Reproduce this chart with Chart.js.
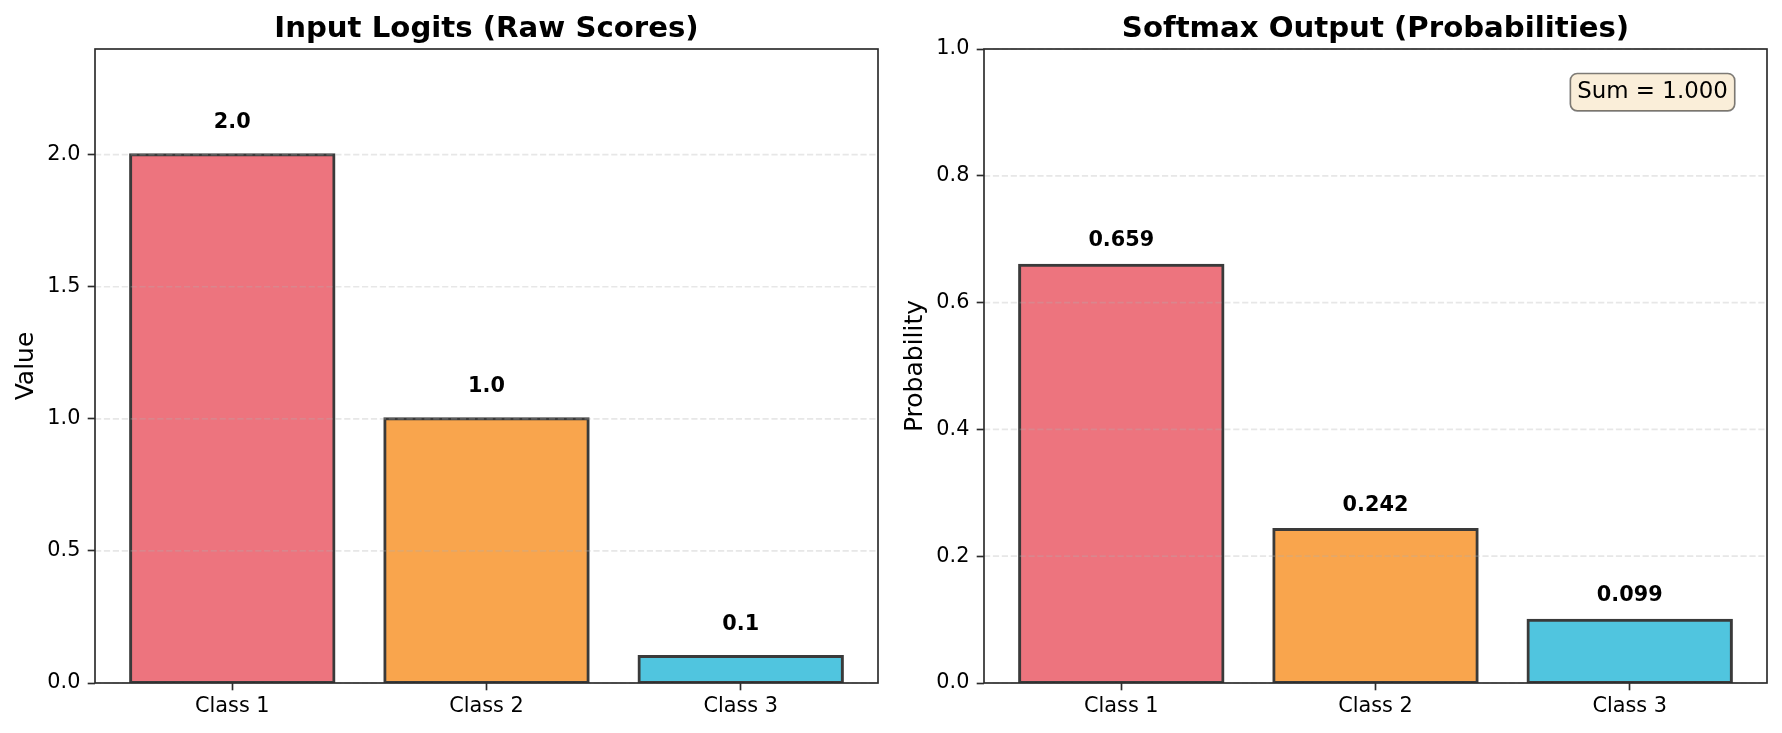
<!DOCTYPE html>
<html><head><meta charset="utf-8">
<script src="https://cdn.jsdelivr.net/npm/chart.js@4.4.1/dist/chart.umd.min.js"></script>
<style>
html,body{margin:0;padding:0;background:#fff;overflow:hidden}
#wrap{position:relative;width:1782px;height:733px;background:#fff}
canvas{position:absolute;top:0}
</style></head><body>
<div id="wrap">
<canvas id="c1" width="891" height="733" style="left:0"></canvas>
<canvas id="c2" width="891" height="733" style="left:891px"></canvas>
</div>
<script>
// ---- data ----
const categories = ['Class 1', 'Class 2', 'Class 3'];
const logitValues = [2.0, 1.0, 0.1];
const probValues = [0.659, 0.242, 0.099];
const barColors = ['rgb(237,116,126)', 'rgb(249,165,77)', 'rgb(80,197,223)'];
const logitTicks = [0, 0.5, 1.0, 1.5, 2.0];
const probTicks = [0, 0.2, 0.4, 0.6, 0.8, 1.0];
const chartTitles = ['Input Logits (Raw Scores)', 'Softmax Output (Probabilities)'];
const yAxisTitles = ['Value', 'Probability'];

Chart.defaults.font.family = "'DejaVu Sans', sans-serif";
Chart.defaults.color = '#000';

const SPINE = '#2b2b2b';
const TICK_FONT = 20.8;

const deco = {
  id: 'deco',
  afterDatasetsDraw(chart, args, o) {
    const ctx = chart.ctx, a = chart.chartArea;
    const xs = chart.scales.x, ys = chart.scales.y;
    ctx.save();
    // dashed grid lines over bars
    ctx.strokeStyle = 'rgba(176,176,176,0.3)';
    ctx.lineWidth = 1.67;
    ctx.setLineDash([6.2, 2.7]);
    o.ticks.forEach(t => {
      const y = ys.getPixelForValue(t);
      ctx.beginPath(); ctx.moveTo(a.left, y); ctx.lineTo(a.right, y); ctx.stroke();
    });
    ctx.setLineDash([]);
    // bar labels
    ctx.fillStyle = '#000';
    ctx.font = 'bold ' + TICK_FONT + 'px "DejaVu Sans"';
    ctx.textAlign = 'center';
    ctx.textBaseline = 'alphabetic';
    o.values.forEach((v, i) => {
      ctx.fillText(v.toFixed(o.decimals), xs.getPixelForValue(i), ys.getPixelForValue(v + o.labelOffset));
    });
    // spines
    ctx.strokeStyle = SPINE;
    ctx.lineWidth = 1.67;
    ctx.strokeRect(a.left, a.top, a.right - a.left, a.bottom - a.top);
    ctx.restore();
  },
  afterDraw(chart, args, o) {
    const ctx = chart.ctx, a = chart.chartArea;
    ctx.save();
    ctx.fillStyle = '#000';
    ctx.font = 'bold 29.2px "DejaVu Sans"';
    ctx.textAlign = 'center';
    ctx.textBaseline = 'alphabetic';
    ctx.fillText(o.title, (a.left + a.right) / 2, 36.5);
    // y axis title
    ctx.font = '25px "DejaVu Sans"';
    ctx.translate(a.left - 62, (a.top + a.bottom) / 2);
    ctx.rotate(-Math.PI / 2);
    ctx.fillText(o.yTitle, 0, 0);
    ctx.setTransform(1, 0, 0, 1, 0, 0);
    if (o.sumBox) {
      const sum = o.values.reduce((s, v) => s + v, 0);
      const txt = 'Sum = ' + sum.toFixed(3);
      ctx.font = '22.9px "DejaVu Sans"';
      const w = ctx.measureText(txt).width;
      const right = a.left + 0.95 * (a.right - a.left);
      const top = a.top + 0.05 * (a.bottom - a.top);
      const pad = 6.9;
      const bx = right - w - pad, by = top - 7.2, bw = w + 2 * pad, bh = 37.4, r = 6.9;
      ctx.beginPath();
      ctx.moveTo(bx + r, by);
      ctx.lineTo(bx + bw - r, by); ctx.arcTo(bx + bw, by, bx + bw, by + r, r);
      ctx.lineTo(bx + bw, by + bh - r); ctx.arcTo(bx + bw, by + bh, bx + bw - r, by + bh, r);
      ctx.lineTo(bx + r, by + bh); ctx.arcTo(bx, by + bh, bx, by + bh - r, r);
      ctx.lineTo(bx, by + r); ctx.arcTo(bx, by, bx + r, by, r);
      ctx.closePath();
      ctx.fillStyle = 'rgba(245,222,179,0.5)';
      ctx.fill();
      ctx.strokeStyle = 'rgba(0,0,0,0.5)';
      ctx.lineWidth = 1.67;
      ctx.stroke();
      ctx.fillStyle = '#000';
      ctx.textAlign = 'right';
      ctx.textBaseline = 'alphabetic';
      ctx.fillText(txt, right, top + 17.6);
    }
    ctx.restore();
  }
};

function makeChart(id, values, ticks, yMax, yWidth, rightPad, idx, labelOffset, decimals, sumBox) {
  return new Chart(document.getElementById(id), {
    type: 'bar',
    data: {
      datasets: [{
        data: values.map((v, i) => ({ x: i, y: v })),
        backgroundColor: barColors,
        borderColor: '#3a3a3a',
        borderWidth: 3,
        borderSkipped: false,
        inflateAmount: 1.5,
        barPercentage: 0.8,
        categoryPercentage: 1.0
      }]
    },
    options: {
      responsive: false,
      animation: false,
      devicePixelRatio: 1,
      layout: { padding: { top: 49, right: rightPad, left: 0, bottom: 0 } },
      plugins: {
        legend: { display: false },
        title: { display: false },
        tooltip: { enabled: false },
        deco: { title: chartTitles[idx], yTitle: yAxisTitles[idx], ticks: ticks, values: values,
                labelOffset: labelOffset, decimals: decimals, sumBox: sumBox }
      },
      scales: {
        x: {
          type: 'linear', min: -0.54, max: 2.54, offset: false,
          afterBuildTicks: s => { s.ticks = categories.map((c, i) => ({ value: i })); },
          afterFit: s => { s.height = 50; },
          grid: { display: true, drawOnChartArea: false, drawTicks: true, tickLength: 7.3,
                  tickWidth: 1.67, tickColor: SPINE, offset: false },
          border: { display: false },
          ticks: { autoSkip: false, maxRotation: 0, padding: 4, color: '#000',
                   font: { size: TICK_FONT }, callback: v => categories[v] }
        },
        y: {
          type: 'linear', min: 0, max: yMax,
          afterBuildTicks: s => { s.ticks = ticks.map(t => ({ value: t })); },
          afterFit: s => { s.width = yWidth; },
          grid: { display: true, drawOnChartArea: false, drawTicks: true, tickLength: 7.3,
                  tickWidth: 1.67, tickColor: SPINE },
          border: { display: false },
          ticks: { padding: 7.3, color: '#000', font: { size: TICK_FONT },
                   callback: v => Number(v).toFixed(1) }
        }
      }
    },
    plugins: [deco]
  });
}

makeChart('c1', logitValues, logitTicks, 2.4, 95, 13, 0, 0.1, 1, false);
makeChart('c2', probValues, probTicks, 1.0, 93, 15, 1, 0.03, 3, true);
</script>
</body></html>
